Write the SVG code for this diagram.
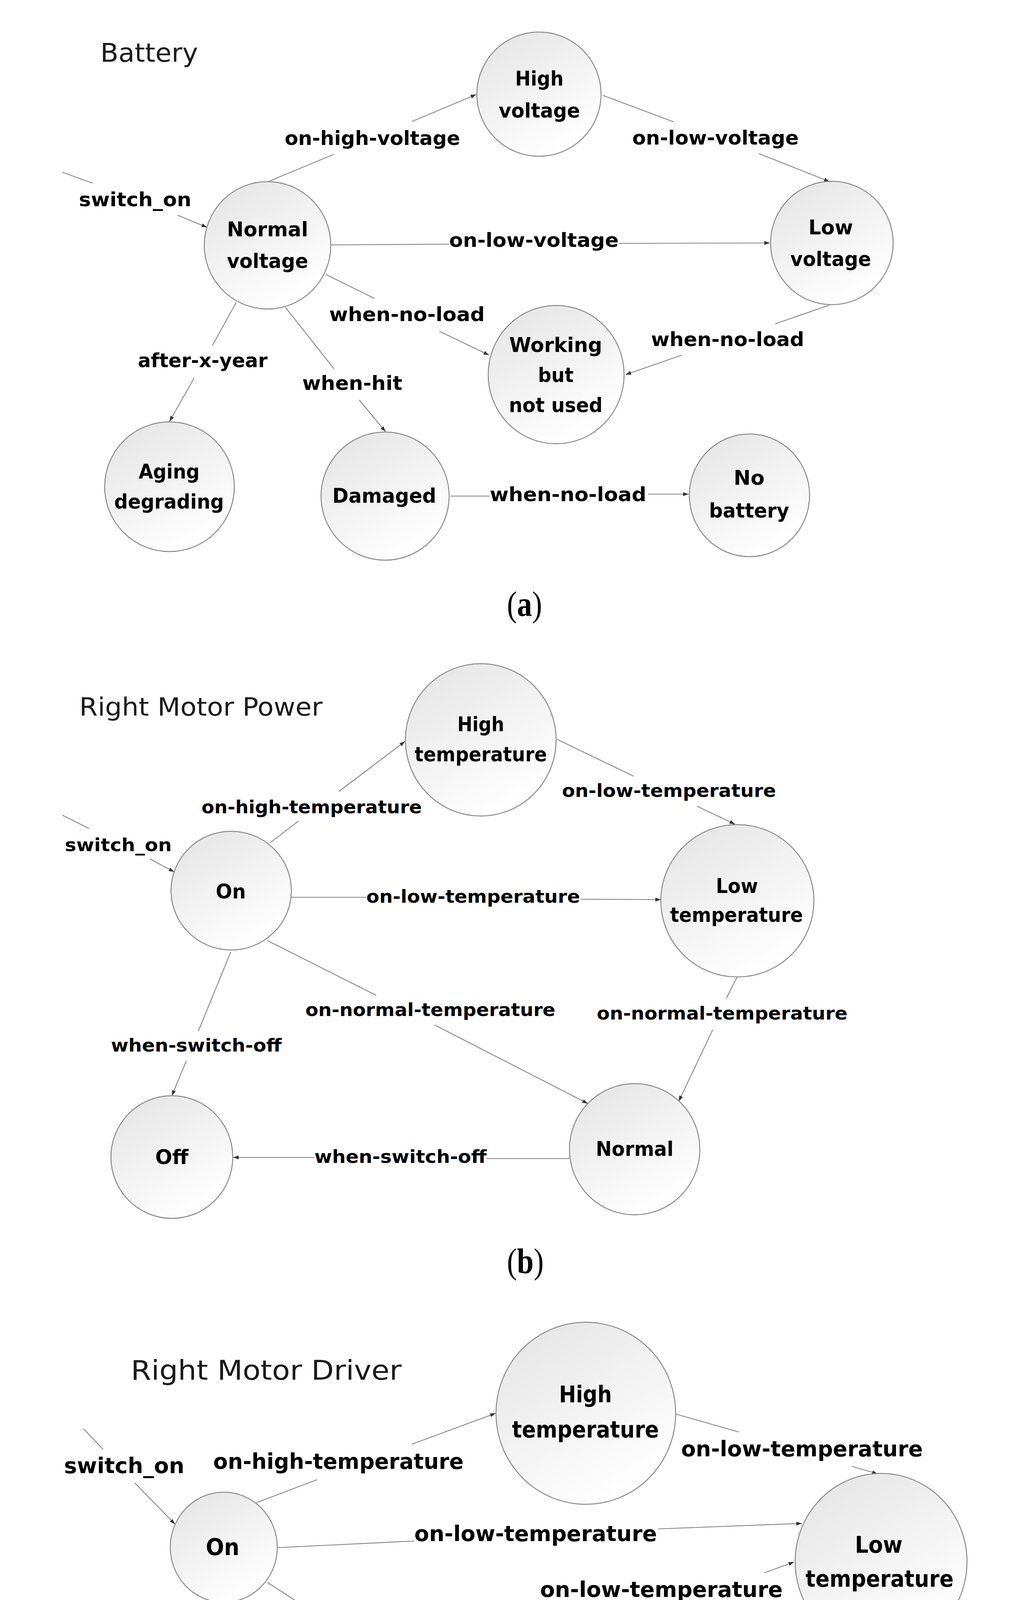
<svg xmlns="http://www.w3.org/2000/svg" width="2604" height="5336" viewBox="0 0 2604 5336">
<defs>
<linearGradient id="nodefill" x1="0" y1="0" x2="0.6" y2="1">
<stop offset="0" stop-color="#e3e3e3"/>
<stop offset="1" stop-color="#ffffff"/>
</linearGradient>
<marker id="arr" viewBox="0 0 14 10" markerWidth="14" markerHeight="10" refX="14" refY="5" orient="auto" markerUnits="userSpaceOnUse">
<path d="M0,0 L14,5 L0,10 z" fill="#333333"/>
</marker>
</defs>
<style>
.node ellipse{fill:url(#nodefill);stroke:#8a8a8a;stroke-width:2.5}
.node text{font-family:"DejaVu Sans",sans-serif;font-weight:bold;fill:#000;text-anchor:middle}
.edges path{fill:none;stroke:#858585;stroke-width:2.2;marker-end:url(#arr)}
.el{font-family:"DejaVu Sans",sans-serif;font-weight:bold;fill:#000}
.title{font-family:"DejaVu Sans",sans-serif;fill:#1a1a1a}
.cap{font-family:"Liberation Serif",serif;font-size:90px;fill:#000}
.sa{font-size:52px}.sb{font-size:52px}.sc{font-size:58px}
.ea{font-size:50px}.eb{font-size:47px}.ec{font-size:56px}
</style>
<rect width="2604" height="5336" fill="#ffffff"/>

<!-- titles and captions -->
<text class="title" x="257" y="158" font-size="66" textLength="250" lengthAdjust="spacingAndGlyphs">Battery</text>
<text class="title" x="203" y="1832" font-size="64" textLength="623" lengthAdjust="spacingAndGlyphs">Right Motor Power</text>
<text class="title" x="335" y="3532" font-size="70" textLength="693" lengthAdjust="spacingAndGlyphs">Right Motor Driver</text>
<text class="cap" x="1298" y="1577" textLength="90" lengthAdjust="spacingAndGlyphs">(<tspan font-weight="bold">a</tspan>)</text>
<text class="cap" x="1298" y="3259" textLength="94" lengthAdjust="spacingAndGlyphs">(<tspan font-weight="bold">b</tspan>)</text>
<text class="cap" x="1298" y="5204" textLength="90" lengthAdjust="spacingAndGlyphs">(<tspan font-weight="bold">c</tspan>)</text>

<!-- connectors -->
<g class="edges" id="connectors">
<path d="M160,441 L237,469 M455,551 L530,582"/>
<path d="M689,464 L855,395 M1055,311 L1219,242"/>
<path d="M1543,244 L1725,312 M1943,393 L2124,465"/>
<path d="M847,627 L1150,625 M1584,623 L1971,622"/>
<path d="M835,703 L959,764 M1125,848 L1252,909"/>
<path d="M2124,781 L1985,829 M1746,909 L1602,959"/>
<path d="M605,774 L544,884 M497,968 L434,1079"/>
<path d="M731,787 L855,944 M920,1024 L987,1105"/>
<path d="M1153,1270 L1254,1270 M1659,1265 L1763,1265"/>

<path d="M160,2087 L228,2121 M384,2199 L446,2232"/>
<path d="M691,2158 L764,2102 M868,2026 L1037,1898"/>
<path d="M1427,1893 L1622,1987 M1785,2064 L1882,2110"/>
<path d="M746,2297 L938,2297 M1488,2302 L1692,2303"/>
<path d="M685,2408 L963,2548 M1113,2624 L1505,2825"/>
<path d="M1887,2502 L1860,2555 M1825,2636 L1738,2819"/>
<path d="M591,2437 L508,2639 M477,2716 L440,2805"/>
<path d="M1458,2966 L1246,2966 M805,2963 L597,2963"/>

<path d="M214,3658 L264,3710 M345,3796 L448,3902"/>
<path d="M656,3847 L812,3788 M1055,3697 L1269,3618"/>
<path d="M1730,3620 L1892,3666 M2182,3754 L2247,3773"/>
<path d="M710,3962 L1061,3945 M1686,3914 L2053,3900"/>
<path d="M685,4051 L818,4138 M955,4228 L1204,4390"/>
<path d="M1355,4240 L1705,4117 M1958,4026 L2033,3999"/>
<path d="M2083,4134 L1871,4225 M1671,4312 L1502,4390"/>
<path d="M2253,4225 L2267,4356 M2275,4450 L2280,4493"/>
<path d="M1472,4484 L1534,4493 M1937,4564 L2139,4598"/>
<path d="M1353,4542 L1353,4595 M1356,4682 L1356,4757"/>
<path d="M571,4102 L571,4390 M571,4479 L571,4729"/>
<path d="M1231,4481 L1001,4660 M887,4749 L725,4882"/>
<path d="M1508,4911 L1657,4877 M2008,4785 L2178,4743"/>
</g>

<!-- connector labels -->
<g id="connector-labels">
<text class="el ea" x="202" y="528" textLength="288" lengthAdjust="spacingAndGlyphs">switch_on</text>
<text class="el ea" x="729" y="371" textLength="449" lengthAdjust="spacingAndGlyphs">on-high-voltage</text>
<text class="el ea" x="1619" y="370" textLength="426" lengthAdjust="spacingAndGlyphs">on-low-voltage</text>
<text class="el ea" x="1150" y="632" textLength="434" lengthAdjust="spacingAndGlyphs">on-low-voltage</text>
<text class="el ea" x="843" y="822" textLength="398" lengthAdjust="spacingAndGlyphs">when-no-load</text>
<text class="el ea" x="1667" y="886" textLength="392" lengthAdjust="spacingAndGlyphs">when-no-load</text>
<text class="el ea" x="353" y="940" textLength="332" lengthAdjust="spacingAndGlyphs">after-x-year</text>
<text class="el ea" x="774" y="998" textLength="256" lengthAdjust="spacingAndGlyphs">when-hit</text>
<text class="el ea" x="1254" y="1283" textLength="401" lengthAdjust="spacingAndGlyphs">when-no-load</text>

<text class="el eb" x="166" y="2179" textLength="274" lengthAdjust="spacingAndGlyphs">switch_on</text>
<text class="el eb" x="516" y="2082" textLength="564" lengthAdjust="spacingAndGlyphs">on-high-temperature</text>
<text class="el eb" x="1439" y="2040" textLength="548" lengthAdjust="spacingAndGlyphs">on-low-temperature</text>
<text class="el eb" x="938" y="2311" textLength="547" lengthAdjust="spacingAndGlyphs">on-low-temperature</text>
<text class="el eb" x="782" y="2601" textLength="640" lengthAdjust="spacingAndGlyphs">on-normal-temperature</text>
<text class="el eb" x="1528" y="2610" textLength="642" lengthAdjust="spacingAndGlyphs">on-normal-temperature</text>
<text class="el eb" x="284" y="2692" textLength="437" lengthAdjust="spacingAndGlyphs">when-switch-off</text>
<text class="el eb" x="805" y="2977" textLength="441" lengthAdjust="spacingAndGlyphs">when-switch-off</text>

<text class="el ec" x="164" y="3771" textLength="308" lengthAdjust="spacingAndGlyphs">switch_on</text>
<text class="el ec" x="546" y="3760" textLength="641" lengthAdjust="spacingAndGlyphs">on-high-temperature</text>
<text class="el ec" x="1744" y="3728" textLength="619" lengthAdjust="spacingAndGlyphs">on-low-temperature</text>
<text class="el ec" x="1061" y="3945" textLength="621" lengthAdjust="spacingAndGlyphs">on-low-temperature</text>
<text class="el ec" x="619" y="4205" textLength="725" lengthAdjust="spacingAndGlyphs">on-normal-temperature</text>
<text class="el ec" x="1383" y="4088" textLength="621" lengthAdjust="spacingAndGlyphs">on-low-temperature</text>
<text class="el ec" x="1475" y="4288" textLength="725" lengthAdjust="spacingAndGlyphs">on-normal-temperature</text>
<text class="el ec" x="2033" y="4417" textLength="494" lengthAdjust="spacingAndGlyphs">when-switch-off</text>
<text class="el ec" x="1539" y="4537" textLength="494" lengthAdjust="spacingAndGlyphs">when-switch-off</text>
<text class="el ec" x="1128" y="4655" textLength="455" lengthAdjust="spacingAndGlyphs">on-low-current</text>
<text class="el ec" x="339" y="4450" textLength="475" lengthAdjust="spacingAndGlyphs">on-high-current</text>
<text class="el ec" x="691" y="4720" textLength="476" lengthAdjust="spacingAndGlyphs">on-high-current</text>
<text class="el ec" x="1642" y="4848" textLength="497" lengthAdjust="spacingAndGlyphs">when-switch-off</text>
</g>

<!-- panel (a) nodes -->
<g class="node" id="a-normal-voltage"><ellipse cx="685" cy="628" rx="162" ry="163"/><text class="sa" x="685" y="605" textLength="208" lengthAdjust="spacingAndGlyphs">Normal</text><text class="sa" x="685" y="686" textLength="208" lengthAdjust="spacingAndGlyphs">voltage</text></g>
<g class="node" id="a-high-voltage"><ellipse cx="1380" cy="241" rx="159" ry="159"/><text class="sa" x="1381" y="219" textLength="124" lengthAdjust="spacingAndGlyphs">High</text><text class="sa" x="1381" y="301" textLength="208" lengthAdjust="spacingAndGlyphs">voltage</text></g>
<g class="node" id="a-low-voltage"><ellipse cx="2130" cy="622" rx="157" ry="158"/><text class="sa" x="2127" y="600" textLength="114" lengthAdjust="spacingAndGlyphs">Low</text><text class="sa" x="2127" y="681" textLength="207" lengthAdjust="spacingAndGlyphs">voltage</text></g>
<g class="node" id="a-working"><ellipse cx="1424" cy="959" rx="174" ry="177"/><text class="sa" x="1423" y="901" textLength="238" lengthAdjust="spacingAndGlyphs">Working</text><text class="sa" x="1423" y="978" textLength="91" lengthAdjust="spacingAndGlyphs">but</text><text class="sa" x="1423" y="1055" textLength="240" lengthAdjust="spacingAndGlyphs">not used</text></g>
<g class="node" id="a-aging"><ellipse cx="434" cy="1246" rx="166" ry="166"/><text class="sa" x="433" y="1225" textLength="156" lengthAdjust="spacingAndGlyphs">Aging</text><text class="sa" x="433" y="1302" textLength="281" lengthAdjust="spacingAndGlyphs">degrading</text></g>
<g class="node" id="a-damaged"><ellipse cx="986" cy="1270" rx="164" ry="164"/><text class="sa" x="984" y="1287" textLength="266" lengthAdjust="spacingAndGlyphs">Damaged</text></g>
<g class="node" id="a-no-battery"><ellipse cx="1919" cy="1268" rx="154" ry="157"/><text class="sa" x="1918" y="1241" textLength="79" lengthAdjust="spacingAndGlyphs">No</text><text class="sa" x="1918" y="1325" textLength="205" lengthAdjust="spacingAndGlyphs">battery</text></g>

<!-- panel (b) nodes -->
<g class="node" id="b-on"><ellipse cx="592" cy="2280" rx="154" ry="152"/><text class="sb" x="591" y="2300" textLength="77" lengthAdjust="spacingAndGlyphs">On</text></g>
<g class="node" id="b-high-temperature"><ellipse cx="1231" cy="1894" rx="193" ry="195"/><text class="sb" x="1231" y="1872" textLength="120" lengthAdjust="spacingAndGlyphs">High</text><text class="sb" x="1231" y="1949" textLength="339" lengthAdjust="spacingAndGlyphs">temperature</text></g>
<g class="node" id="b-low-temperature"><ellipse cx="1888" cy="2306" rx="196" ry="195"/><text class="sb" x="1887" y="2286" textLength="108" lengthAdjust="spacingAndGlyphs">Low</text><text class="sb" x="1886" y="2360" textLength="340" lengthAdjust="spacingAndGlyphs">temperature</text></g>
<g class="node" id="b-off"><ellipse cx="440" cy="2962" rx="156" ry="157"/><text class="sb" x="440" y="2980" textLength="85" lengthAdjust="spacingAndGlyphs">Off</text></g>
<g class="node" id="b-normal"><ellipse cx="1625" cy="2942" rx="167" ry="168"/><text class="sb" x="1625" y="2959" textLength="199" lengthAdjust="spacingAndGlyphs">Normal</text></g>

<!-- panel (c) nodes -->
<g class="node" id="c-on"><ellipse cx="573" cy="3961" rx="137" ry="141"/><text class="sc" x="570" y="3981" textLength="86" lengthAdjust="spacingAndGlyphs">On</text></g>
<g class="node" id="c-high-temperature"><ellipse cx="1500" cy="3618" rx="230" ry="233"/><text class="sc" x="1499" y="3590" textLength="135" lengthAdjust="spacingAndGlyphs">High</text><text class="sc" x="1499" y="3680" textLength="376" lengthAdjust="spacingAndGlyphs">temperature</text></g>
<g class="node" id="c-low-temperature"><ellipse cx="2256" cy="3998" rx="220" ry="226"/><text class="sc" x="2250" y="3975" textLength="122" lengthAdjust="spacingAndGlyphs">Low</text><text class="sc" x="2252" y="4062" textLength="379" lengthAdjust="spacingAndGlyphs">temperature</text></g>
<g class="node" id="c-normal"><ellipse cx="1353" cy="4390" rx="147" ry="150"/><text class="sc" x="1351" y="4410" textLength="220" lengthAdjust="spacingAndGlyphs">Normal</text></g>
<g class="node" id="c-off"><ellipse cx="2278" cy="4640" rx="146" ry="147"/><text class="sc" x="2278" y="4660" textLength="93" lengthAdjust="spacingAndGlyphs">Off</text></g>
<g class="node" id="c-high-current"><ellipse cx="574" cy="4882" rx="150" ry="155"/><text class="sc" x="572" y="4858" textLength="133" lengthAdjust="spacingAndGlyphs">High</text><text class="sc" x="572" y="4946" textLength="222" lengthAdjust="spacingAndGlyphs">current</text></g>
<g class="node" id="c-low-current"><ellipse cx="1357" cy="4911" rx="151" ry="155"/><text class="sc" x="1357" y="4885" textLength="120" lengthAdjust="spacingAndGlyphs">Low</text><text class="sc" x="1357" y="4974" textLength="218" lengthAdjust="spacingAndGlyphs">current</text></g>
</svg>
